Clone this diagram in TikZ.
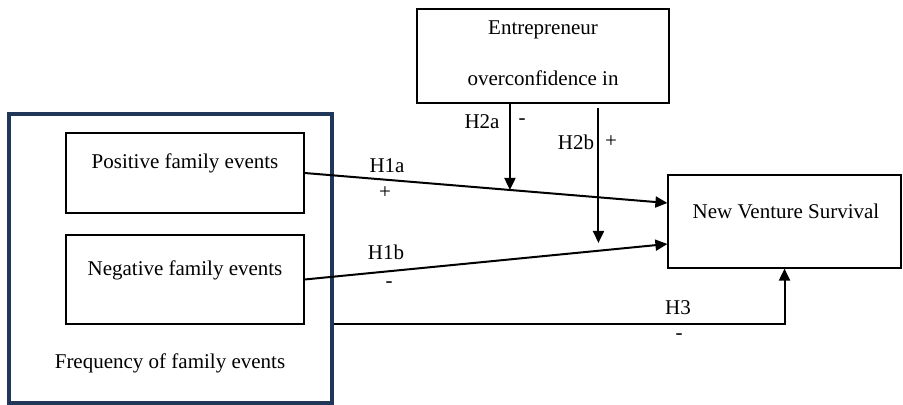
\documentclass[tikz,border=0pt]{standalone}
\usepackage{fontspec}
\setmainfont{Liberation Serif}
\usetikzlibrary{arrows.meta}
\definecolor{framenavy}{HTML}{203759}

\begin{document}
\begin{tikzpicture}[x=0.5pt, y=-0.5pt,
    every node/.style={font=\fontsize{10.5}{12.6}\selectfont},
    box/.style={draw, line width=0.6pt, inner sep=0pt},
    link/.style={line width=1pt, -{Triangle[length=6pt, width=5.5pt]}}]

    \useasboundingbox (0,0) rectangle (903,405);

    % boxes
    \node[box, draw=framenavy, line width=1.6pt, minimum width=161.5pt, minimum height=144.5pt] (freq) at (170.5,258.5) {};
    \node[box, minimum width=119pt, minimum height=40pt] (pos) at (185,173) {};
    \node[box, minimum width=119pt, minimum height=44.5pt] (neg) at (185,279.5) {};
    \node[box, minimum width=126pt, minimum height=47pt] (conf) at (543,56) {};
    \node[box, minimum width=116.5pt, minimum height=46.5pt] (surv) at (784.5,221.5) {};

    \node (posText) at (185,163) {Positive family events};
    \node (negText) at (185,270) {Negative family events};
    \node (freqText) at (170,363) {Frequency of family events};
    \node (confTop) at (543,30) {Entrepreneur};
    \node (confBot) at (543,78) {overconfidence in};
    \node (survText) at (786,211) {New Venture Survival};

    % main effects
    \draw[link] (pos.east) -- ([yshift=9.25pt]surv.west) coordinate[pos=0.566] (m1);
    \draw[link] (neg.east) -- ([yshift=-11.25pt]surv.west) coordinate[pos=0.81] (m2);
    \draw[link] ([yshift=-32.75pt]freq.east) -| (surv.south);

    % moderation
    \draw[link] (m1 |- conf.south) -- (m1);
    \draw[link] ([yshift=-2pt]m2 |- conf.south) -- ([yshift=3.9pt]m2);

    \node (h1a) at (387,166) {H1a};
    \node (h1aSign) at (385,193) {+};
    \node (h1b) at (386,252) {H1b};
    \node (h1bSign) at (389,285) {-};
    \node (h2a) at (482,122) {H2a};
    \node (h2aSign) at (522,122) {-};
    \node (h2b) at (576,142) {H2b};
    \node (h2bSign) at (611,142) {+};
    \node (h3) at (678,308) {H3};
    \node (h3Sign) at (679,337) {-};

\end{tikzpicture}
\end{document}
